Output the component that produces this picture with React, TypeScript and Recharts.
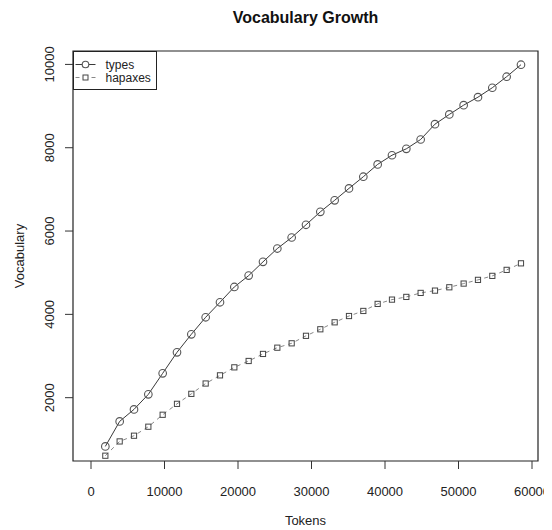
import React from "react";
import { ComposedChart, Line, XAxis, YAxis, ReferenceArea, Legend } from "recharts";

const tokens = [1950, 3900, 5850, 7800, 9750, 11700, 13650, 15600, 17550, 19500, 21450, 23400, 25350, 27300, 29250, 31200, 33150, 35100, 37050, 39000, 40950, 42900, 44850, 46800, 48750, 50700, 52650, 54600, 56550, 58500];
const types = [830, 1431, 1719, 2080, 2584, 3089, 3521, 3930, 4290, 4658, 4930, 5260, 5580, 5845, 6150, 6461, 6738, 7024, 7304, 7600, 7820, 7974, 8198, 8566, 8799, 9022, 9214, 9440, 9705, 9993];
const hapaxes = [607, 950, 1087, 1303, 1590, 1852, 2092, 2340, 2536, 2728, 2881, 3050, 3200, 3305, 3485, 3642, 3809, 3960, 4082, 4251, 4354, 4419, 4515, 4570, 4650, 4739, 4828, 4924, 5068, 5225];

const xTicks = [0, 10000, 20000, 30000, 40000, 50000, 60000];
const yTicks = [2000, 4000, 6000, 8000, 10000];
const xDomain: [number, number] = [-2449, 60816];
const yDomain: [number, number] = [480, 10322];

const seriesNames = ["types", "hapaxes"];

const data = tokens.map((t, i) => ({ tokens: t, types: types[i], hapaxes: hapaxes[i] }));

const FONT = "'Liberation Sans', Arial, Helvetica, sans-serif";

const XTick = (props: any) => {
  const { x, y, payload } = props;
  return (
    <text x={x} y={y + 22} textAnchor="middle" dominantBaseline="central" fontSize={13} fontFamily={FONT} fill="#222">
      {payload.value}
    </text>
  );
};

const YTick = (props: any) => {
  const { x, y, payload } = props;
  const cx = x - 15;
  return (
    <text x={cx} y={y} transform={`rotate(-90, ${cx}, ${y})`} textAnchor="middle" dominantBaseline="central" fontSize={13} fontFamily={FONT} fill="#222">
      {payload.value}
    </text>
  );
};

const CircleDot = (props: any) => {
  const { cx, cy, index } = props;
  if (cx == null || cy == null) return <g key={index} />;
  return <circle key={index} cx={cx} cy={cy} r={3.8} fill="none" stroke="#555" strokeWidth={1.1} />;
};

const SquareDot = (props: any) => {
  const { cx, cy, index } = props;
  if (cx == null || cy == null) return <g key={index} />;
  return <rect key={index} x={cx - 2.6} y={cy - 2.6} width={5.2} height={5.2} fill="none" stroke="#444" strokeWidth={1} />;
};

const LegendBox = () => (
  <svg width={84} height={39} style={{ display: "block" }}>
    <rect x={0.5} y={0.5} width={83} height={38} fill="white" stroke="#222" strokeWidth={1} />
    <line x1={2.5} x2={22.5} y1={13.5} y2={13.5} stroke="#3a3a3a" strokeWidth={1} />
    <circle cx={12.5} cy={13.5} r={3.3} fill="white" stroke="#555" strokeWidth={1.1} />
    <text x={32.5} y={13.5} dominantBaseline="central" fontSize={12} fontFamily={FONT} fill="#222">{seriesNames[0]}</text>
    <line x1={2.5} x2={22.5} y1={26.5} y2={26.5} stroke="#888" strokeWidth={1} strokeDasharray="4 4" />
    <rect x={10} y={24} width={5} height={5} fill="white" stroke="#444" strokeWidth={1} />
    <text x={32.5} y={26.5} dominantBaseline="central" fontSize={12} fontFamily={FONT} fill="#222">{seriesNames[1]}</text>
  </svg>
);

export default function App() {
  return (
    <div style={{ position: "relative", width: 544, height: 522, background: "#fff" }}>
      <div
        style={{
          position: "absolute",
          left: 65,
          top: 1,
          width: 465,
          textAlign: "center",
          fontFamily: FONT,
          fontWeight: "bold",
          fontSize: 16,
          color: "#111",
          zIndex: 2,
        }}
      >
        Vocabulary Growth
      </div>
      <ComposedChart width={544} height={522} data={data} margin={{ top: 43, right: 14, bottom: 0, left: 0 }}>
        <XAxis
          type="number"
          dataKey="tokens"
          domain={xDomain}
          ticks={xTicks}
          allowDataOverflow
          axisLine={false}
          tickSize={8}
          tickMargin={0}
          tickLine={{ stroke: "#333" }}
          tick={<XTick />}
          height={69}
          interval={0}
          label={(p: any) => {
            const vb = p.viewBox;
            return (
              <text x={vb.x + vb.width / 2} y={vb.y + 59} textAnchor="middle" dominantBaseline="central" fontSize={13} fontFamily={FONT} fill="#222">
                Tokens
              </text>
            );
          }}
        />
        <YAxis
          type="number"
          domain={yDomain}
          ticks={yTicks}
          allowDataOverflow
          axisLine={false}
          tickSize={8}
          tickMargin={0}
          tickLine={{ stroke: "#333" }}
          tick={<YTick />}
          width={65}
          interval={0}
          label={(p: any) => {
            const vb = p.viewBox;
            const cx = vb.x + 11;
            const cy = vb.y + vb.height / 2;
            return (
              <text x={cx} y={cy} transform={`rotate(-90, ${cx}, ${cy})`} textAnchor="middle" dominantBaseline="central" fontSize={13} fontFamily={FONT} fill="#222">
                Vocabulary
              </text>
            );
          }}
        />
        <ReferenceArea x1={xDomain[0]} x2={xDomain[1]} y1={yDomain[0]} y2={yDomain[1]} fill="none" fillOpacity={0} stroke="#222" strokeWidth={1.2} ifOverflow="visible" />
        <Line
          type="linear"
          dataKey="types"
          name={seriesNames[0]}
          stroke="#3a3a3a"
          strokeWidth={1}
          dot={<CircleDot />}
          activeDot={false}
          isAnimationActive={false}
        />
        <Line
          type="linear"
          dataKey="hapaxes"
          name={seriesNames[1]}
          stroke="#888"
          strokeWidth={1}
          strokeDasharray="4 4"
          dot={<SquareDot />}
          activeDot={false}
          isAnimationActive={false}
        />
        <Legend
          layout="horizontal"
          verticalAlign="middle"
          align="center"
          content={() => <LegendBox />}
          wrapperStyle={{ left: 65, top: 43, width: 84, height: 39, right: "auto", bottom: "auto" }}
        />
      </ComposedChart>
    </div>
  );
}
